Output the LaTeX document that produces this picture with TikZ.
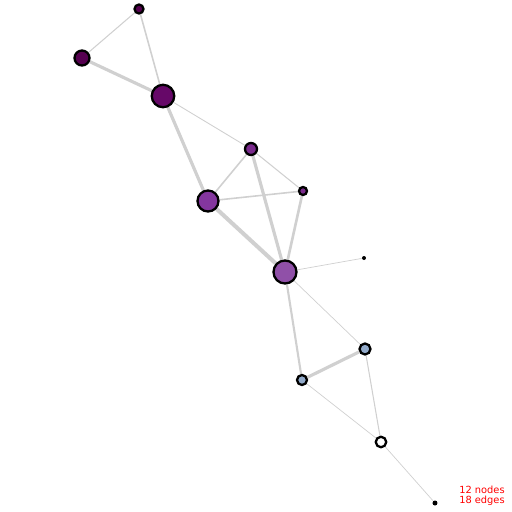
\documentclass[tikz,border=0pt]{standalone}
\usepackage{fontspec}
\newfontfamily\labelfont{DejaVu Sans}
\usetikzlibrary{backgrounds}

\definecolor{edgegray}{HTML}{D0D0D0}
\definecolor{plumA}{HTML}{560050}
\definecolor{plumB}{HTML}{660868}
\definecolor{plumC}{HTML}{7A2A8C}
\definecolor{plumD}{HTML}{84369E}
\definecolor{plumE}{HTML}{9050A8}
\definecolor{steel}{HTML}{92AACA}

\begin{document}
\begin{tikzpicture}[
    x=0.02cm, y=-0.02cm,
    vertex/.style={circle, draw=black, line width=1.3pt, inner sep=0pt},
    dot/.style={circle, fill=black, inner sep=0pt},
    edge/.style={draw=edgegray, line width=#1},
    edge/.default=0.6pt
]
\useasboundingbox (0,0) rectangle (512,512);

% Nodes
\node[vertex, fill=plumA, minimum size=0.18cm] (n1) at (139,9) {};
\node[vertex, fill=plumA, minimum size=0.30cm] (n2) at (82,58) {};
\node[vertex, fill=plumB, minimum size=0.45cm] (n3) at (163,96) {};
\node[vertex, fill=plumC, minimum size=0.24cm] (n4) at (251,149) {};
\node[vertex, fill=plumC, minimum size=0.16cm] (n5) at (303,191) {};
\node[vertex, fill=plumD, minimum size=0.42cm] (n6) at (208,201) {};
\node[vertex, fill=plumE, minimum size=0.46cm] (n7) at (285,272) {};
\node[dot, minimum size=0.08cm] (n8) at (364,258) {};
\node[vertex, fill=steel, minimum size=0.22cm] (n9) at (365,349) {};
\node[vertex, fill=steel, minimum size=0.20cm] (n10) at (302,380) {};
\node[vertex, fill=white, minimum size=0.21cm] (n11) at (381,442) {};
\node[dot, minimum size=0.10cm] (n12) at (435,503) {};

% Edges
\begin{pgfonlayer}{background}
\draw[edge=0.6pt] (n1) -- (n2);
\draw[edge=0.9pt] (n1) -- (n3);
\draw[edge=1.8pt] (n2) -- (n3);
\draw[edge=0.5pt] (n3) -- (n4);
\draw[edge=1.8pt] (n3) -- (n6);
\draw[edge=0.9pt] (n4) -- (n6);
\draw[edge=0.6pt] (n4) -- (n5);
\draw[edge=1.8pt] (n4) -- (n7);
\draw[edge=0.9pt] (n6) -- (n5);
\draw[edge=2.3pt] (n6) -- (n7);
\draw[edge=1.5pt] (n5) -- (n7);
\draw[edge=0.4pt] (n7) -- (n8);
\draw[edge=0.4pt] (n7) -- (n9);
\draw[edge=1.2pt] (n7) -- (n10);
\draw[edge=1.8pt] (n10) -- (n9);
\draw[edge=0.6pt] (n9) -- (n11);
\draw[edge=0.4pt] (n10) -- (n11);
\draw[edge=0.4pt] (n11) -- (n12);
\end{pgfonlayer}

% Counter
\node[anchor=south east, align=right, text=red, inner sep=0pt,
      font=\labelfont\fontsize{5.6pt}{5.9pt}\selectfont] (stats) at (505,506)
      {12 nodes\\18 edges};
\end{tikzpicture}
\end{document}
